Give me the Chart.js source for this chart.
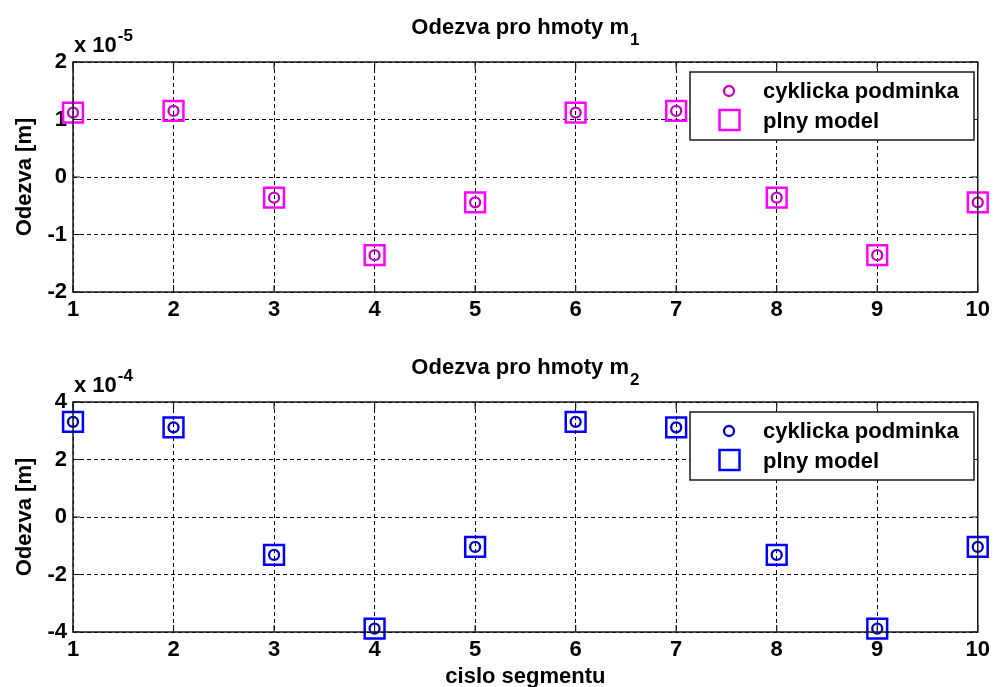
<!DOCTYPE html>
<html><head><meta charset="utf-8">
<script src="https://cdn.jsdelivr.net/npm/chart.js@4/dist/chart.umd.min.js"></script>
<style>
html,body{margin:0;padding:0;background:#fff;}
#wrap{position:relative;width:995px;height:687px;overflow:hidden;background:#fff}
.c{position:absolute;left:0;width:995px}
#c1box{top:0;height:340px}
#c2box{top:340px;height:347px}
canvas{display:block}
</style></head><body>
<div id="wrap">
<div class="c" id="c1box"><canvas id="c1" width="995" height="340"></canvas></div>
<div class="c" id="c2box"><canvas id="c2" width="995" height="347"></canvas></div>
</div>
<script>
// ---- data ----
const segments = [1, 2, 3, 4, 5, 6, 7, 8, 9, 10];
const xTicks = [1, 2, 3, 4, 5, 6, 7, 8, 9, 10];

// mass m1, values in units of 1e-5 m
const m1Exponent = -5;
const m1Cyclic = [1.12, 1.15, -0.36, -1.36, -0.44, 1.12, 1.15, -0.36, -1.36, -0.44];
const m1Full   = [1.12, 1.15, -0.36, -1.36, -0.44, 1.12, 1.15, -0.36, -1.36, -0.44];
const m1YTicks = [-2, -1, 0, 1, 2];

// mass m2, values in units of 1e-4 m
const m2Exponent = -4;
const m2Cyclic = [3.31, 3.12, -1.32, -3.88, -1.04, 3.31, 3.12, -1.32, -3.88, -1.04];
const m2Full   = [3.31, 3.12, -1.32, -3.88, -1.04, 3.31, 3.12, -1.32, -3.88, -1.04];
const m2YTicks = [-4, -2, 0, 2, 4];

const titleMain = 'Odezva pro hmoty m';
const titleSubs = ['1', '2'];
const seriesLabels = ['cyklicka podminka', 'plny model'];
const yLabel = 'Odezva [m]';
const xLabel = 'cislo segmentu';

// ---- rendering ----
const FAM = '"Liberation Sans", Arial, Helvetica, sans-serif';
const F = (s) => 'bold ' + s + 'px ' + FAM;

function matlabPlugin(o) {
  return {
    id: 'matlab',
    afterDatasetsDraw(chart) {
      const ctx = chart.ctx, a = chart.chartArea;
      const xs = chart.scales.x, ys = chart.scales.y;
      ctx.save();
      ctx.strokeStyle = '#1a1a1a';
      ctx.lineWidth = 1.5;
      ctx.setLineDash([]);
      ctx.strokeRect(a.left, a.top, a.right - a.left, a.bottom - a.top);
      ctx.lineWidth = 1.2;
      ctx.beginPath();
      xTicks.forEach(v => {
        const p = xs.getPixelForValue(v);
        ctx.moveTo(p, a.top); ctx.lineTo(p, a.top + 7);
        ctx.moveTo(p, a.bottom); ctx.lineTo(p, a.bottom - 7);
      });
      o.yTicks.forEach(v => {
        const p = ys.getPixelForValue(v);
        ctx.moveTo(a.left, p); ctx.lineTo(a.left + 7, p);
        ctx.moveTo(a.right, p); ctx.lineTo(a.right - 7, p);
      });
      ctx.stroke();

      // legend
      const lx = 690, ly = 72, lw = 284, lh = 68;
      ctx.fillStyle = '#fff';
      ctx.fillRect(lx, ly, lw, lh);
      ctx.strokeStyle = '#1a1a1a';
      ctx.lineWidth = 1.5;
      ctx.strokeRect(lx, ly, lw, lh);
      ctx.lineWidth = 2.3;
      ctx.strokeStyle = o.circleColor;
      ctx.beginPath(); ctx.arc(729, 91, 5, 0, Math.PI * 2); ctx.stroke();
      ctx.lineWidth = 2.5;
      ctx.strokeStyle = o.squareColor;
      ctx.strokeRect(719.5, 110, 20, 20);
      ctx.fillStyle = '#000';
      ctx.font = F(22);
      ctx.textAlign = 'left';
      ctx.textBaseline = 'alphabetic';
      ctx.fillText(chart.data.datasets[0].label, 763, 98);
      ctx.fillText(chart.data.datasets[1].label, 763, 128);
      ctx.restore();
    },
    afterDraw(chart) {
      const ctx = chart.ctx, a = chart.chartArea;
      ctx.save();
      ctx.fillStyle = '#000';
      ctx.textBaseline = 'alphabetic';
      ctx.textAlign = 'left';
      // title with subscript
      ctx.font = F(22);
      const w1 = ctx.measureText(titleMain).width;
      ctx.font = F(17);
      const w2 = ctx.measureText(o.sub).width;
      const cx = (a.left + a.right) / 2;
      const x0 = cx - (w1 + w2 + 1) / 2;
      ctx.font = F(22);
      ctx.fillText(titleMain, x0, 34);
      ctx.font = F(17);
      ctx.fillText(o.sub, x0 + w1 + 1, 45);
      // exponent
      ctx.font = F(22);
      ctx.fillText('x 10', 74, 52);
      const wx = ctx.measureText('x 10').width;
      ctx.font = F(17);
      ctx.fillText(String(o.exp), 74 + wx + 1, 41);
      // y label
      ctx.font = F(22);
      ctx.textAlign = 'center';
      ctx.save();
      ctx.translate(31, (a.top + a.bottom) / 2);
      ctx.rotate(-Math.PI / 2);
      ctx.fillText(yLabel, 0, 0);
      ctx.restore();
      if (o.xLabel) {
        ctx.fillText(o.xLabel, cx, 343);
      }
      ctx.restore();
    }
  };
}

function makeChart(id, H, cyc, full, yTicks, exp, sub, circleColor, squareColor, xl) {
  const ctx = document.getElementById(id);
  return new Chart(ctx, {
    type: 'scatter',
    data: {
      datasets: [
        {
          label: seriesLabels[0],
          data: segments.map((s, i) => ({ x: s, y: cyc[i] })),
          pointStyle: 'circle',
          pointRadius: 5,
          pointBorderWidth: 2.3,
          borderColor: circleColor,
          backgroundColor: 'rgba(0,0,0,0)',
          showLine: false,
          clip: false
        },
        {
          label: seriesLabels[1],
          data: segments.map((s, i) => ({ x: s, y: full[i] })),
          pointStyle: 'rect',
          pointRadius: 14,
          pointBorderWidth: 2.5,
          borderColor: squareColor,
          backgroundColor: 'rgba(0,0,0,0)',
          showLine: false,
          clip: false
        }
      ]
    },
    options: {
      responsive: false,
      animation: false,
      events: [],
      layout: { padding: { top: 62, right: 13, left: 0, bottom: 0 } },
      plugins: { legend: { display: false }, tooltip: { enabled: false }, title: { display: false } },
      scales: {
        x: {
          type: 'linear',
          min: xTicks[0], max: xTicks[xTicks.length - 1],
          afterBuildTicks(s) { s.ticks = xTicks.map(v => ({ value: v })); },
          afterFit(s) { s.height = H - 292; },
          grid: { color: '#000', lineWidth: 1, drawTicks: false },
          border: { display: false, dash: [4, 3] },
          ticks: { color: '#000', font: { family: FAM, size: 22, weight: 'bold' }, padding: 5, maxRotation: 0, autoSkip: false, callback: v => String(v) }
        },
        y: {
          type: 'linear',
          min: yTicks[0], max: yTicks[yTicks.length - 1],
          afterBuildTicks(s) { s.ticks = yTicks.map(v => ({ value: v })); },
          afterFit(s) { s.width = 73; },
          grid: { color: '#000', lineWidth: 1, drawTicks: false },
          border: { display: false, dash: [4, 3] },
          ticks: { color: '#000', font: { family: FAM, size: 22, weight: 'bold' }, padding: 6, autoSkip: false, callback: v => String(v) }
        }
      }
    },
    plugins: [matlabPlugin({ yTicks, exp, sub, circleColor, squareColor, xLabel: xl })]
  });
}

makeChart('c1', 340, m1Cyclic, m1Full, m1YTicks, m1Exponent, titleSubs[0], '#c800c8', '#ff00ff', null);
makeChart('c2', 347, m2Cyclic, m2Full, m2YTicks, m2Exponent, titleSubs[1], '#0000cc', '#0000ff', xLabel);
</script>
</body></html>
